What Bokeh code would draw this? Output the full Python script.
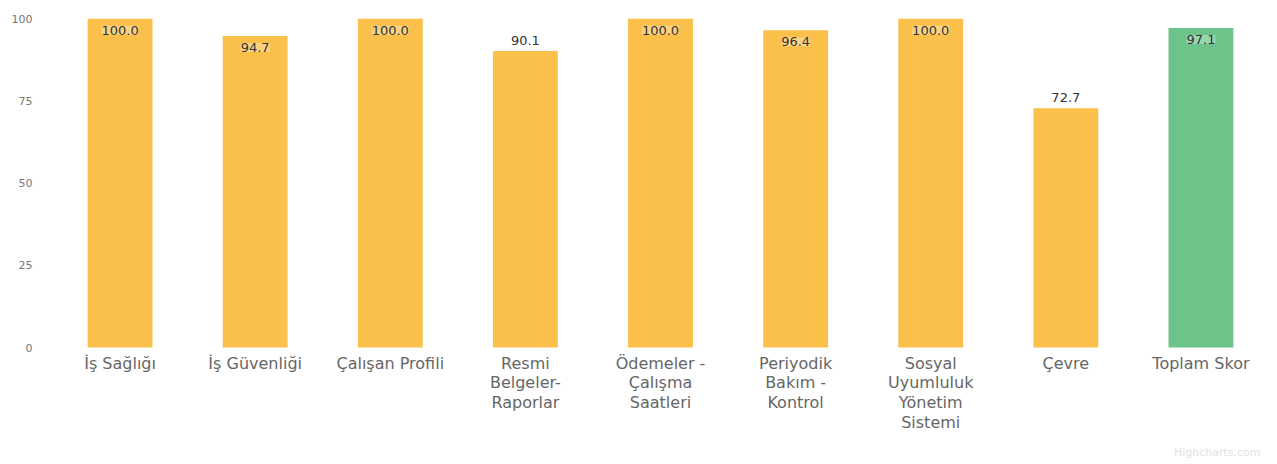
from bokeh.plotting import figure
from bokeh.models import ColumnDataSource, FactorRange, FixedTicker, Label
from bokeh.core.properties import value
from bokeh.embed import file_html
from bokeh.resources import INLINE

categories = ["İş Sağlığı", "İş Güvenliği", "Çalışan Profili", "Resmi Belgeler-Raporlar",
              "Ödemeler - Çalışma Saatleri", "Periyodik Bakım - Kontrol",
              "Sosyal Uyumluluk Yönetim Sistemi", "Çevre", "Toplam Skor"]
tick_labels = ["İş Sağlığı", "İş Güvenliği", "Çalışan Profili", "Resmi\nBelgeler-\nRaporlar",
               "Ödemeler -\nÇalışma\nSaatleri", "Periyodik\nBakım -\nKontrol",
               "Sosyal\nUyumluluk\nYönetim\nSistemi", "Çevre", "Toplam Skor"]
scores = [100.0, 94.7, 100.0, 90.1, 100.0, 96.4, 100.0, 72.7, 97.1]
y_ticks = [0, 25, 50, 75, 100]

ORANGE = "#FAC04A"
GREEN = "#6CC48A"
colors = [GREEN if c == "Toplam Skor" else ORANGE for c in categories]
labels = ["%.1f" % v for v in scores]
inside = [v > 93 for v in scores]
offsets = [7 if i else -6 for i in inside]
baselines = ["top" if i else "bottom" for i in inside]

src = ColumnDataSource(dict(cat=categories, val=scores, color=colors, lab=labels,
                            off=offsets, base=baselines, tick=tick_labels,
                            zero=[0] * len(categories)))

# plot area: value 100 at 18px from top, value 0 at 347px; frame extends to the
# bottom of the page so the category labels (drawn as text) are not clipped
TOP_PX, ZERO_PX, H = 18, 347, 464
y_min = -100.0 * (H - ZERO_PX) / (ZERO_PX - TOP_PX)

p = figure(width=1277, height=H, x_range=FactorRange(*categories, range_padding=0),
           y_range=(y_min, 100), output_backend="svg", toolbar_location=None,
           min_border_left=52, min_border_right=9, min_border_top=TOP_PX, min_border_bottom=0)
p.outline_line_color = None
p.grid.visible = False
p.background_fill_color = "white"
p.xaxis.visible = False

p.vbar(x="cat", top="val", bottom=0, width=0.48, color="color", line_color=None, source=src)
p.text(x="cat", y="val", text="lab", y_offset="off", text_baseline="base", text_align="center",
       text_font=value("DejaVu Sans"), text_font_size="13px", text_color="#333333",
       background_fill_color="white", background_fill_alpha=0.3, source=src)

p.text(x="cat", y="zero", text="tick", y_offset=6, text_align="center", text_baseline="top",
       text_font=value("DejaVu Sans"), text_font_size="16px", text_color="#666666",
       text_line_height=1.05, source=src)

p.yaxis.ticker = FixedTicker(ticks=y_ticks)
p.yaxis.axis_line_color = None
p.yaxis.major_tick_line_color = None
p.yaxis.minor_tick_line_color = None
p.yaxis.major_label_text_font = "DejaVu Sans"
p.yaxis.major_label_text_font_size = "11px"
p.yaxis.major_label_text_color = "#777777"
p.yaxis.major_label_standoff = 14

credit = Label(x=1208, y=12, x_units="screen", y_units="screen", text="Highcharts.com",
               text_align="right", text_baseline="middle", text_font="DejaVu Sans",
               text_font_size="11px", text_color="#e2e2e2")
p.add_layout(credit)

open("out.html", "w").write(file_html(p, INLINE))
